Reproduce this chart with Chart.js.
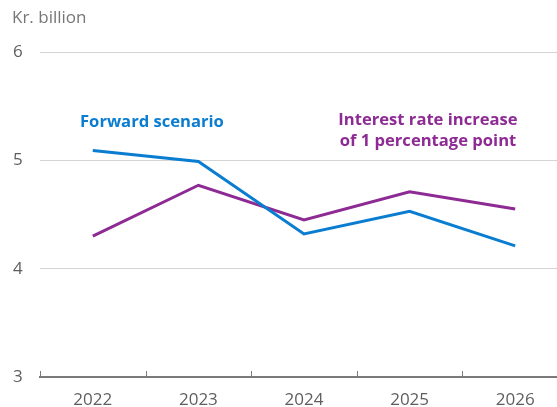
<!DOCTYPE html>
<html>
<head>
<meta charset="utf-8">
<script src="https://cdn.jsdelivr.net/npm/chart.js@4/dist/chart.umd.min.js"></script>
<style>
  html, body { margin: 0; padding: 0; background: #fff; }
  #clip { width: 557px; height: 407px; overflow: hidden; position: relative; }
  #wrap { width: 568px; height: 407px; position: absolute; left: 0; top: 0; }
</style>
</head>
<body>
<div id="clip"><div id="wrap"><canvas id="lineChart"></canvas></div></div>
<script>
const years = ['2022', '2023', '2024', '2025', '2026'];
const forwardScenario = [5.09, 4.99, 4.32, 4.53, 4.21];
const rateIncrease = [4.30, 4.77, 4.45, 4.71, 4.55];
const yTicks = [3, 4, 5, 6];

const blue = '#0a7dd1';
const purple = '#8d2a93';
const fontFamily = '"Open Sans", sans-serif';

// small upward tick marks between the year bands, plus the heading and series labels
const decorations = {
    id: 'decorations',
    afterDraw(chart) {
        const ctx = chart.ctx;
        const x = chart.scales.x;
        const area = chart.chartArea;
        const band = x.getPixelForValue(1) - x.getPixelForValue(0);
        ctx.save();
        ctx.strokeStyle = '#7a7a7a';
        ctx.lineWidth = 1;
        for (let i = 0; i <= years.length; i++) {
            const px = Math.round(x.getPixelForValue(0) - band / 2 + i * band) + 0.5;
            ctx.beginPath();
            ctx.moveTo(px, area.bottom - 6);
            ctx.lineTo(px, area.bottom);
            ctx.stroke();
        }
        ctx.textBaseline = 'middle';
        ctx.fillStyle = '#767676';
        ctx.font = '17px ' + fontFamily;
        ctx.textAlign = 'left';
        ctx.fillText('Kr. billion', 12, 18);

        ctx.font = 'bold 16.6px ' + fontFamily;
        ctx.fillStyle = blue;
        ctx.fillText('Forward scenario', 80, 122);
        ctx.fillStyle = purple;
        ctx.textAlign = 'center';
        ctx.fillText('Interest rate increase', 428, 120);
        ctx.fillText('of 1 percentage point', 428, 141);
        ctx.restore();
    }
};

new Chart('lineChart', {
    type: 'line',
    data: {
        labels: years,
        datasets: [{
            label: 'Forward scenario',
            data: forwardScenario,
            borderColor: blue,
            borderWidth: 3,
            pointRadius: 0,
            tension: 0,
            fill: false
        }, {
            label: 'Interest rate increase of 1 percentage point',
            data: rateIncrease,
            borderColor: purple,
            borderWidth: 3,
            pointRadius: 0,
            tension: 0,
            fill: false
        }]
    },
    options: {
        responsive: true,
        maintainAspectRatio: false,
        animation: false,
        layout: { padding: { left: 13, top: 52, right: 0, bottom: 0 } },
        plugins: {
            legend: { display: false },
            tooltip: { enabled: false }
        },
        scales: {
            x: {
                offset: true,
                grid: { display: true, drawOnChartArea: false, drawTicks: false, offset: true },
                border: { display: true, color: '#7a7a7a', width: 2 },
                ticks: {
                    color: '#5e5e5e',
                    font: { family: fontFamily, size: 17 },
                    padding: 13,
                    maxRotation: 0
                },
                afterFit(scale) { scale.height = 30; }
            },
            y: {
                min: 3,
                max: 6,
                afterBuildTicks(scale) { scale.ticks = yTicks.map(v => ({ value: v })); },
                grid: {
                    color: ctx => (ctx.tick && ctx.tick.value === 3) ? 'rgba(0,0,0,0)' : '#d4d4d4',
                    lineWidth: 1,
                    drawTicks: false
                },
                border: { display: false },
                ticks: {
                    color: '#5e5e5e',
                    font: { family: fontFamily, size: 17 },
                    crossAlign: 'far',
                    padding: 0
                },
                afterFit(scale) { scale.width = 27; }
            }
        }
    },
    plugins: [decorations]
});
</script>
</body>
</html>
